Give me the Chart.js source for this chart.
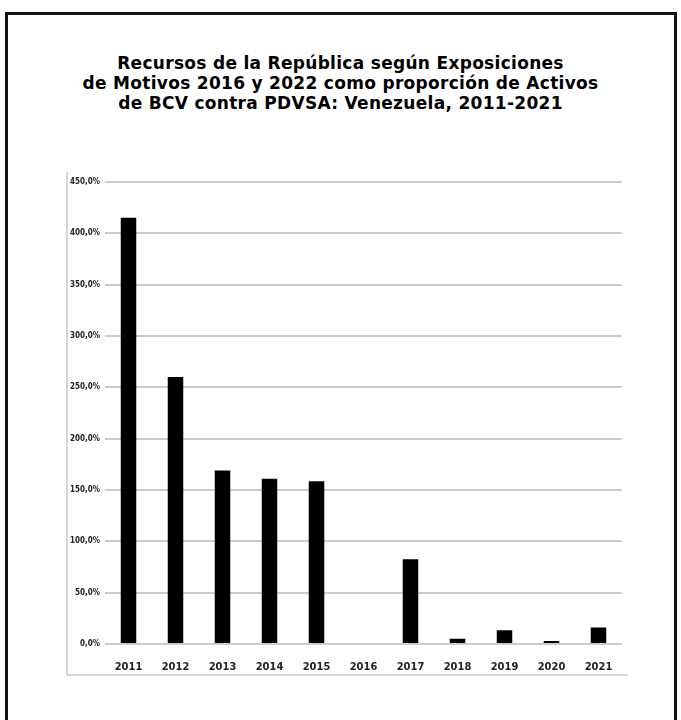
<!DOCTYPE html>
<html lang="es">
<head>
<meta charset="UTF-8" />
<title>Recursos de la República / Activos BCV contra PDVSA</title>
<script src="https://cdn.jsdelivr.net/npm/chart.js@4.4.1/dist/chart.umd.min.js"></script>
<style>
    body { margin: 0; background: #fff; width: 681px; height: 720px; overflow: hidden; position: relative; }
    #frame { position: absolute; left: 5px; top: 12px; width: 666px; height: 760px; border: 3px solid #111; }
    #title { position: absolute; left: 0; top: 53px; width: 681px; text-align: center;
             font-family: "DejaVu Sans", sans-serif; font-weight: bold; font-size: 17px; line-height: 20px;
             letter-spacing: 0.3px; color: #000; }
    #box { position: absolute; left: 66px; top: 172px; width: 560px; height: 502px;
           border-left: 2px solid #d6d6d6; border-bottom: 2px solid #d6d6d6; }
</style>
</head>
<body>
<div id="frame"></div>
<div id="title">Recursos de la República según Exposiciones<br>de Motivos 2016 y 2022 como proporción de Activos<br>de BCV contra PDVSA: Venezuela, 2011-2021</div>
<div id="box"><canvas id="chart" width="560" height="502"></canvas></div>
<script>
    // años y proporción (%)
    let years = ['2011', '2012', '2013', '2014', '2015', '2016', '2017', '2018', '2019', '2020', '2021']
    let shares = [415, 260, 169, 161, 158.5, 0, 82.5, 5, 13.5, 3, 16]
    let yTicks = [0, 50, 100, 150, 200, 250, 300, 350, 400, 450]

    const tickFont = { family: '"Liberation Sans Narrow", "DejaVu Sans Condensed", Arial, sans-serif', weight: 'bold' }

    let ctx = document.getElementById('chart')
    let myBarChart = new Chart(ctx, {
        type: 'bar',
        data: {
            labels: years,
            datasets: [{
                label: 'Proporción',
                data: shares,
                backgroundColor: '#000',
                borderWidth: 0,
                barPercentage: 0.33,
                categoryPercentage: 1
            }]
        },
        options: {
            responsive: false,
            animation: false,
            devicePixelRatio: 1,
            layout: { padding: { top: 9, right: 6, left: 0, bottom: 0 } },
            plugins: { legend: { display: false }, tooltip: { enabled: false } },
            scales: {
                x: {
                    grid: { display: false },
                    border: { display: false },
                    ticks: { color: '#222', padding: 9, font: { ...tickFont, size: 11 }, maxRotation: 0 },
                    afterFit: (s) => { s.height = 30 }
                },
                y: {
                    min: 0,
                    max: 450,
                    afterBuildTicks: (s) => { s.ticks = yTicks.map(v => ({ value: v })) },
                    grid: { color: '#cbcbcb', lineWidth: 2, drawTicks: false },
                    border: { display: false },
                    ticks: {
                        color: '#222', padding: 5, font: { ...tickFont, size: 8 },
                        callback: (v) => v.toFixed(1).replace('.', ',') + '%'
                    },
                    afterFit: (s) => { s.width = 37 }
                }
            }
        }
    })
</script>
</body>
</html>
